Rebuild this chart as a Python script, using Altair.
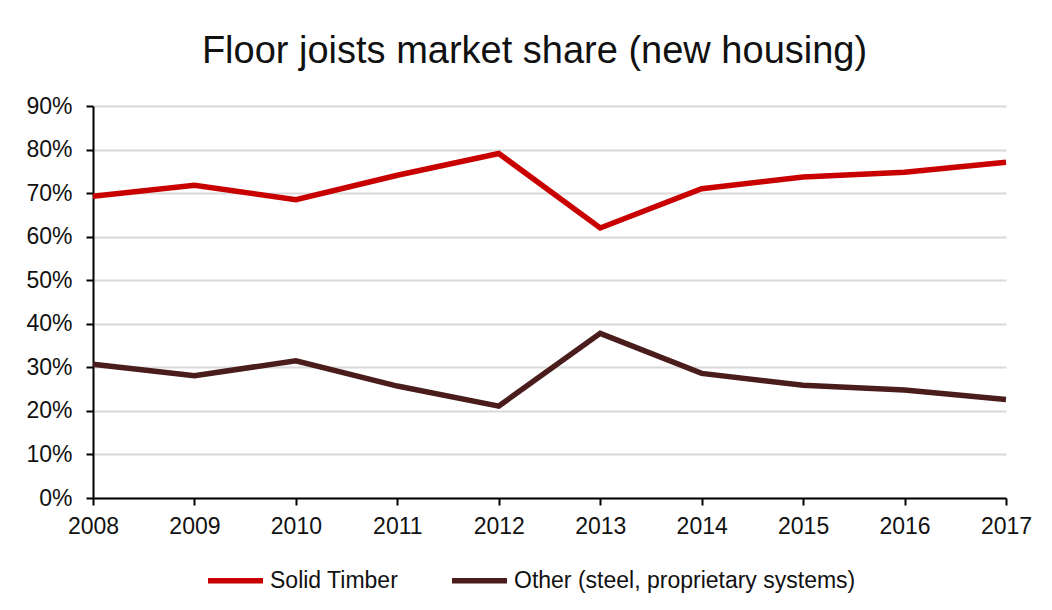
import altair as alt
import pandas as pd

years = [2008, 2009, 2010, 2011, 2012, 2013, 2014, 2015, 2016, 2017]
solid_timber = [0.693, 0.718, 0.685, 0.741, 0.791, 0.620, 0.710, 0.737, 0.748, 0.771]
other = [0.307, 0.281, 0.315, 0.257, 0.211, 0.378, 0.286, 0.259, 0.248, 0.226]
series_names = ["Solid Timber", "Other (steel, proprietary systems)"]
series_colors = ["#C80000", "#4A1C1C"]

rows = []
for name, vals in zip(series_names, [solid_timber, other]):
    for y, v in zip(years, vals):
        rows.append({"Year": y, "Share": v, "Series": name})
df = pd.DataFrame(rows)

FONT = "Liberation Sans"

chart = alt.Chart(df).mark_line(strokeWidth=5.5, strokeJoin="miter", strokeCap="butt").encode(
    x=alt.X("Year:O", scale=alt.Scale(type="point", padding=0),
            axis=alt.Axis(title=None, labelAngle=0, grid=False, domainColor="black",
                          domainWidth=2, tickColor="black", tickWidth=2, tickSize=7,
                          labelFontSize=23, labelColor="#111", labelPadding=10)),
    y=alt.Y("Share:Q", scale=alt.Scale(domain=[0, 0.9], nice=False),
            axis=alt.Axis(title=None, format=".0%", values=[i / 10 for i in range(10)],
                          domainColor="black", domainWidth=2, tickColor="black", tickWidth=2,
                          tickSize=7, labelFontSize=23, labelColor="#111", labelPadding=14,
                          gridColor="#D9D9D9", gridWidth=2)),
    color=alt.Color("Series:N", sort=series_names,
                    scale=alt.Scale(domain=series_names, range=series_colors),
                    legend=alt.Legend(title=None, orient="none", direction="horizontal",
                                      legendX=112, legendY=444, labelLimit=500,
                                      symbolType="stroke", symbolSize=3025, symbolStrokeWidth=5.5,
                                      labelFontSize=23, labelColor="#111", columnPadding=42,
                                      labelOffset=4)),
).properties(
    width=913, height=392,
    title=alt.TitleParams("Floor joists market share (new housing)", fontSize=38,
                          font=FONT, fontWeight="normal", color="#111", offset=24, dx=-15),
    padding={"left": 17, "top": 25, "right": 10, "bottom": 10},
).configure(font=FONT).configure_view(stroke=None)

chart.save("out.html", embed_options={"renderer": "svg", "actions": False})
